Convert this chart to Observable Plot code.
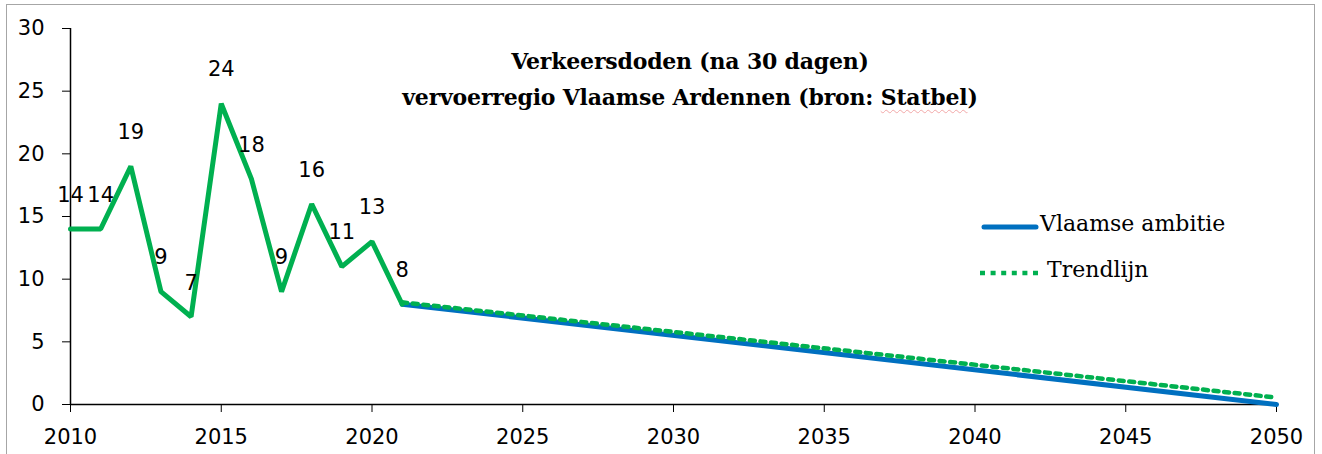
<!DOCTYPE html>
<html>
<head>
<meta charset="utf-8">
<script src="https://cdn.jsdelivr.net/npm/d3@7"></script>
<script src="https://cdn.jsdelivr.net/npm/@observablehq/plot@0.6"></script>
<style>
  html, body { margin: 0; padding: 0; background: #fff; overflow: hidden; }
  #wrap { position: relative; width: 1322px; height: 454px; }
  #frame { position: absolute; left: 6px; top: 4px; width: 1309px; height: 470px; border: 1.5px solid #a6a6a6; box-sizing: border-box; }
  #title { position: absolute; left: 340px; width: 700px; top: 43px; text-align: center;
           font-family: "DejaVu Serif", serif; font-weight: bold; font-size: 22px; line-height: 36px; color: #000; letter-spacing: -0.2px; }
  #title .u { text-decoration: underline wavy #f2a8a8; text-decoration-thickness: 1px; text-underline-offset: 4px; }
  .leg { position: absolute; font-family: "DejaVu Serif", serif; font-size: 22px; color: #000; letter-spacing: 0px; }
  svg.plot { position: absolute; left: 0; top: 0; }
</style>
</head>
<body>
<div id="wrap">
  <div id="frame"></div>
  <div id="chart"></div>
  <div id="title">Verkeersdoden (na 30 dagen)<br>vervoerregio Vlaamse Ardennen (bron: <span class="u">Statbel</span>)</div>
  <div id="legend"></div>
</div>
<script>
// Observed data
const years = [2010, 2011, 2012, 2013, 2014, 2015, 2016, 2017, 2018, 2019, 2020, 2021];
const deaths = [14, 14, 19, 9, 7, 24, 18, 9, 16, 11, 13, 8];
// Flemish ambition line
const ambitionYears = [2021, 2050];
const ambitionValues = [8, 0];
// Trend line
const trendYears = [2021, 2050];
const trendValues = [8.15, 0.55];
// Ticks
const xTicks = [2010, 2015, 2020, 2025, 2030, 2035, 2040, 2045, 2050];
const yTicks = [0, 5, 10, 15, 20, 25, 30];
const legendLabels = ["Vlaamse ambitie", "Trendlijn"];

const GREEN = "#00b050";
const BLUE = "#0070c0";

const obs = years.map((y, i) => ({year: y, value: deaths[i]}));
const amb = ambitionYears.map((y, i) => ({year: y, value: ambitionValues[i]}));
const trend = trendYears.map((y, i) => ({year: y, value: trendValues[i]}));

const chart = Plot.plot({
  width: 1322,
  height: 454,
  marginLeft: 70,
  marginRight: 46,
  marginTop: 28,
  marginBottom: 50,
  style: {fontFamily: "'DejaVu Sans', sans-serif", fontSize: "21px", color: "#000", background: "transparent", overflow: "visible"},
  x: {domain: [2010, 2050], ticks: xTicks, tickFormat: d => String(d), label: null},
  y: {domain: [0, 30], ticks: yTicks, label: null},
  marks: [
    Plot.axisY({ticks: yTicks, tickSize: 8, tickPadding: 18, fontSize: 21, stroke: "#000", label: null}),
    Plot.axisX({ticks: xTicks, tickSize: 8, tickPadding: 17, fontSize: 21, stroke: "#000", tickFormat: d => String(d), label: null}),
    Plot.ruleX([2010], {stroke: "#000", strokeWidth: 1.5}),
    Plot.ruleY([0], {stroke: "#000", strokeWidth: 1.5}),
    Plot.line(amb, {x: "year", y: "value", stroke: BLUE, strokeWidth: 5}),
    Plot.line(trend, {x: "year", y: "value", stroke: GREEN, strokeWidth: 4.5, strokeDasharray: "5,5.6"}),
    Plot.line(obs, {x: "year", y: "value", stroke: GREEN, strokeWidth: 5, strokeLinejoin: "miter"}),
    Plot.text(obs, {x: "year", y: "value", text: d => String(d.value), dy: -34, fontSize: 21, fill: "#000"})
  ]
});
document.getElementById("chart").appendChild(chart);

// Legend (HTML overlay)
const legend = document.getElementById("legend");
legend.innerHTML = `
  <svg style="position:absolute;left:978px;top:217px" width="64" height="70">
    <line x1="6" y1="10" x2="58" y2="10" stroke="${BLUE}" stroke-width="5" stroke-linecap="round"/>
    <line x1="2" y1="56" x2="62" y2="56" stroke="${GREEN}" stroke-width="4.5" stroke-dasharray="5,5.6"/>
  </svg>
  <div class="leg" style="left:1040px;top:211px">${legendLabels[0]}</div>
  <div class="leg" style="left:1047px;top:257px">${legendLabels[1]}</div>
`;
</script>
</body>
</html>
